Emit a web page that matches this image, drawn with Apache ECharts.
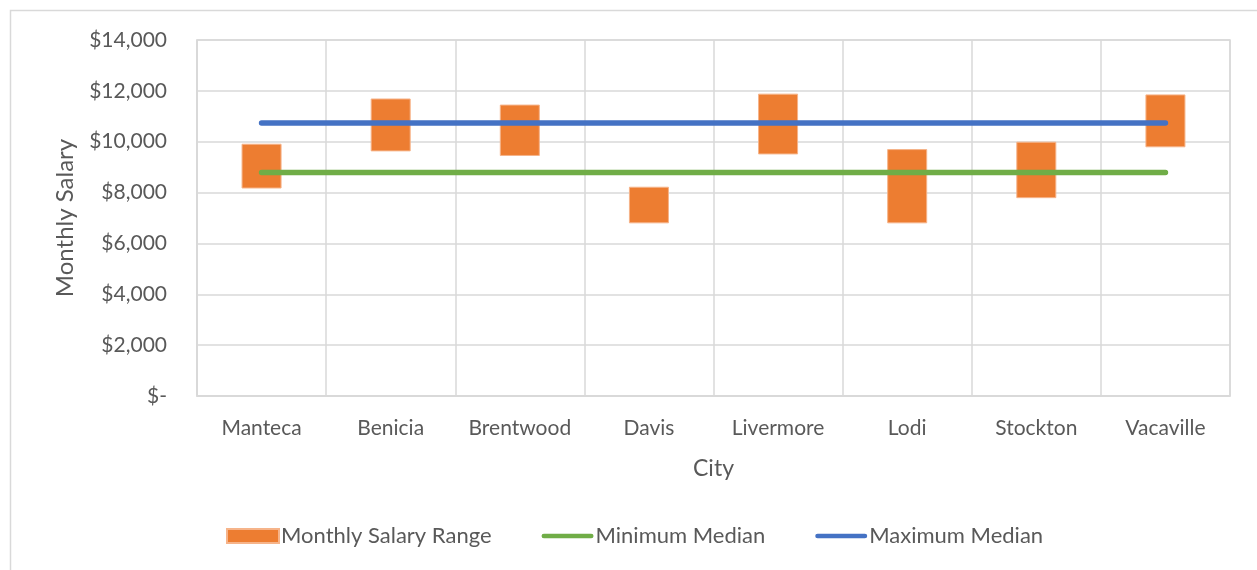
<!DOCTYPE html>
<html>
<head>
<meta charset="utf-8">
<script src="https://cdn.jsdelivr.net/npm/echarts@6/dist/echarts.min.js"></script>
<style>
    html, body { margin: 0; padding: 0; background: #fff; }
    #chart { width: 1257px; height: 570px; }
</style>
</head>
<body>
<div id="chart"></div>
<script>
// data
const cities = ["Manteca", "Benicia", "Brentwood", "Davis", "Livermore", "Lodi", "Stockton", "Vacaville"];
const salaryLow = [8160, 9620, 9440, 6790, 9500, 6790, 7780, 9780];
const salaryHigh = [9920, 11700, 11460, 8230, 11890, 9710, 10000, 11860];
const minMedian = [8790, 8790, 8790, 8790, 8790, 8790, 8790, 8790];
const maxMedian = [10740, 10740, 10740, 10740, 10740, 10740, 10740, 10740];

const gray = "#d9d9d9";
const textColor = "#595959";
const font = "Lato, 'Open Sans', sans-serif";
const lineIcon = "path://M2,0 L53,0 A2,2 0 0 1 53,5 L2,5 A2,2 0 0 1 2,0 Z";

const chart = echarts.init(document.getElementById("chart"));
chart.setOption({
    animation: false,
    textStyle: { fontFamily: font },
    graphic: [{
        type: "rect",
        shape: { x: 10.5, y: 10.5, width: 1300, height: 600 },
        style: { fill: null, stroke: gray, lineWidth: 1.5 },
        silent: true
    }],
    grid: {
        left: 197, right: 27, top: 40, bottom: 174,
        show: true, borderColor: gray, borderWidth: 1.5
    },
    legend: {
        left: 226, top: 525, padding: 0,
        itemWidth: 52, itemHeight: 14,
        itemGap: 50,
        textStyle: { color: textColor, fontSize: 22, fontFamily: font, padding: [0, 0, 0, -3] },
        data: [
            { name: "Monthly Salary Range", icon: "rect" },
            { name: "Minimum Median", icon: lineIcon },
            { name: "Maximum Median", icon: lineIcon }
        ]
    },
    xAxis: {
        type: "category",
        data: cities,
        name: "City",
        nameLocation: "middle",
        nameGap: 61,
        nameTextStyle: { color: textColor, fontSize: 23 },
        axisLine: { lineStyle: { color: gray, width: 1.5 } },
        axisTick: { show: false },
        axisLabel: { color: textColor, fontSize: 21, margin: 22, interval: 0 },
        splitLine: { show: true, interval: 0, lineStyle: { color: gray, width: 1.5 } }
    },
    yAxis: {
        type: "value",
        min: 0, max: 14000, interval: 2000,
        name: "Monthly Salary",
        nameLocation: "middle",
        nameGap: 120,
        nameTextStyle: { color: textColor, fontSize: 24 },
        axisLine: { show: true, lineStyle: { color: gray, width: 1.5 } },
        axisLabel: {
            color: textColor, fontSize: 21, margin: 30,
            formatter: v => v === 0 ? "$-" : "$" + v.toLocaleString("en-US")
        },
        splitLine: { lineStyle: { color: gray, width: 1.5 } }
    },
    series: [
        {
            name: "base",
            type: "bar",
            stack: "range",
            barWidth: "31%",
            itemStyle: { color: "transparent" },
            data: salaryLow
        },
        {
            name: "Monthly Salary Range",
            type: "bar",
            stack: "range",
            barWidth: "31%",
            itemStyle: { color: "#ED7D31", borderColor: "#f6b48a", borderWidth: 1 },
            data: salaryHigh.map((h, i) => h - salaryLow[i])
        },
        {
            name: "Minimum Median",
            type: "line",
            data: minMedian,
            showSymbol: false,
            itemStyle: { color: "#70AD47" },
            lineStyle: { color: "#70AD47", width: 5.5, cap: "round" }
        },
        {
            name: "Maximum Median",
            type: "line",
            data: maxMedian,
            showSymbol: false,
            itemStyle: { color: "#4472C4" },
            lineStyle: { color: "#4472C4", width: 5.5, cap: "round" }
        }
    ]
});
</script>
</body>
</html>
